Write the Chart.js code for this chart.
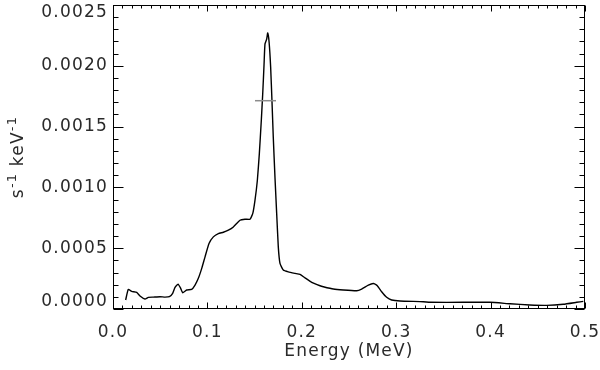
<!DOCTYPE html>
<html>
<head>
<meta charset="utf-8">
<script src="https://cdn.jsdelivr.net/npm/chart.js@4"></script>
<style>
    body { margin: 0; background: #fff; }
    canvas { display: block; }
</style>
</head>
<body>
<canvas id="spectrum" width="600" height="370"></canvas>
<script>
// Spectrum (energy in MeV, rate in s^-1 keV^-1)
const energy = [
    0.0134, 0.0162, 0.0198, 0.0251, 0.0286, 0.0339, 0.0374, 0.0427, 0.0498, 0.0551,
    0.0597, 0.0632, 0.0657, 0.0689, 0.0717, 0.0738, 0.0780, 0.0833, 0.0869, 0.0904,
    0.0940, 0.0975, 0.1017, 0.1063, 0.1116, 0.1169, 0.1222, 0.1275, 0.1345, 0.1398,
    0.1451, 0.1480, 0.1504, 0.1529, 0.1550, 0.1571, 0.1586, 0.1600, 0.1610, 0.1628,
    0.1639, 0.1653, 0.1670, 0.1684, 0.1698, 0.1716, 0.1734, 0.1751, 0.1769, 0.1804,
    0.1857, 0.1928, 0.1981, 0.2034, 0.2105, 0.2193, 0.2228, 0.2334, 0.2440, 0.2581,
    0.2634, 0.2705, 0.2758, 0.2800, 0.2846, 0.2899, 0.2952, 0.3040, 0.3287, 0.3358,
    0.3710, 0.3994, 0.4206, 0.4417, 0.4594, 0.4770, 0.4912, 0.4982
];
const rate = [
    0.000074, 0.000161, 0.000145, 0.000137, 0.000107, 0.000082, 0.000096, 0.000098, 0.000101, 0.000098,
    0.000101, 0.000129, 0.000178, 0.000205, 0.000170, 0.000134, 0.000156, 0.000161, 0.000197, 0.000252,
    0.000334, 0.000429, 0.000539, 0.000593, 0.000620, 0.000631, 0.000648, 0.000675, 0.000730, 0.000738,
    0.000738, 0.000784, 0.000894, 0.001057, 0.001276, 0.001550, 0.001770, 0.002010, 0.002180, 0.002220,
    0.002270, 0.002200, 0.001990, 0.001710, 0.001410, 0.001080, 0.000784, 0.000511, 0.000375, 0.000320,
    0.000305, 0.000293, 0.000285, 0.000256, 0.000219, 0.000191, 0.000183, 0.000164, 0.000156, 0.000150,
    0.000164, 0.000197, 0.000210, 0.000191, 0.000142, 0.000096, 0.000074, 0.000066, 0.000060, 0.000055,
    0.000055, 0.000055, 0.000043, 0.000033, 0.000030, 0.000039, 0.000055, 0.000063
];

// gray width marker across the peak
const fwhmEnergy = [0.1504, 0.1727];
const fwhmRate = [0.001713, 0.001713];

const xRange = [0, 0.5];
const yRange = [0, 0.0025];

const FONT = { family: 'DejaVu Sans', size: 17 };
const TEXT = '#2a2a2a';

// y title pieces: [text, font size, raise]
const yTitle = [['s', 17, 0], ['-1', 13, 7], [' ', 17, 0], ['keV', 17, 0], ['-1', 13, 7]];

// IDL style frame: box, inward ticks on all sides, y labels kept inside the box height
const idlFrame = {
    id: 'idlFrame',
    beforeDraw(chart) {
        chart.ctx.letterSpacing = '1.2px';
    },
    afterDatasetsDraw(chart) {
        const { ctx, chartArea: a, scales: { x, y } } = chart;
        ctx.save();
        ctx.strokeStyle = '#000';
        ctx.lineWidth = 1;
        const L = Math.round(a.left) + 0.5, R = Math.round(a.right) - 0.5;
        const T = Math.round(a.top) + 0.5, B = Math.round(a.bottom) - 0.5;
        ctx.strokeRect(L, T, R - L, B - T);

        ctx.beginPath();
        for (let i = 0; i <= 50; i++) {
            const px = Math.round(x.getPixelForValue(i / 100)) + 0.5;
            const len = i % 10 === 0 ? 6 : 3;
            ctx.moveTo(px, B); ctx.lineTo(px, B - len);
            ctx.moveTo(px, T); ctx.lineTo(px, T + len);
        }
        for (let i = 0; i <= 25; i++) {
            const py = Math.round(y.getPixelForValue(i * 0.0001)) + 0.5;
            const len = i % 5 === 0 ? 10 : 5;
            ctx.moveTo(L, py); ctx.lineTo(L + len, py);
            ctx.moveTo(R, py); ctx.lineTo(R - len, py);
        }
        ctx.stroke();

        ctx.fillStyle = TEXT;
        ctx.font = FONT.size + 'px "' + FONT.family + '"';
        ctx.textAlign = 'right';
        ctx.textBaseline = 'middle';
        y.ticks.forEach(t => {
            let py = y.getPixelForValue(t.value);
            py = Math.min(Math.max(py, a.top + 8), a.bottom - 7);
            ctx.fillText(t.value.toFixed(4), a.left - 5, py);
        });

        // rotated y title with raised exponents
        const fontOf = s => s + 'px "' + FONT.family + '"';
        let total = 0;
        yTitle.forEach(([t, s]) => { ctx.font = fontOf(s); total += ctx.measureText(t).width; });
        ctx.translate(23, (a.top + a.bottom) / 2);
        ctx.rotate(-Math.PI / 2);
        ctx.textAlign = 'left';
        ctx.textBaseline = 'alphabetic';
        let cx = -total / 2;
        yTitle.forEach(([t, s, r]) => {
            ctx.font = fontOf(s);
            ctx.fillText(t, cx, -r);
            cx += ctx.measureText(t).width;
        });
        ctx.restore();
    }
};

const ctx = document.getElementById('spectrum').getContext('2d');
new Chart(ctx, {
    type: 'line',
    data: {
        datasets: [{
            label: 'FWHM',
            data: fwhmEnergy.map((e, i) => ({ x: e, y: fwhmRate[i] })),
            borderColor: '#8c8c8c',
            borderWidth: 1.5,
            pointRadius: 0
        }, {
            label: 'Spectrum',
            data: energy.map((e, i) => ({ x: e, y: rate[i] })),
            borderColor: '#000',
            borderWidth: 1.4,
            pointRadius: 0,
            tension: 0.15
        }]
    },
    options: {
        responsive: false,
        animation: false,
        layout: { padding: { top: 5, right: 15, bottom: 0, left: 0 } },
        plugins: {
            legend: { display: false },
            tooltip: { enabled: false }
        },
        scales: {
            x: {
                type: 'linear',
                min: xRange[0],
                max: xRange[1],
                grid: { display: false, drawTicks: false },
                border: { display: false },
                ticks: {
                    stepSize: 0.1,
                    color: TEXT,
                    font: FONT,
                    padding: 13,
                    maxRotation: 0,
                    callback: v => v.toFixed(1)
                },
                title: {
                    display: true,
                    text: 'Energy (MeV)',
                    color: TEXT,
                    font: FONT,
                    padding: { top: 0, bottom: 8 }
                },
                afterFit(scale) {
                    scale.height = 61;
                    scale.paddingLeft = 0;
                    scale.paddingRight = 0;
                }
            },
            y: {
                min: yRange[0],
                max: yRange[1],
                grid: { display: false, drawTicks: false },
                border: { display: false },
                ticks: { stepSize: 0.0005, display: false },
                title: { display: false },
                afterFit(scale) {
                    scale.width = 113;
                    scale.paddingTop = 0;
                    scale.paddingBottom = 0;
                }
            }
        }
    },
    plugins: [idlFrame]
});
</script>
</body>
</html>
